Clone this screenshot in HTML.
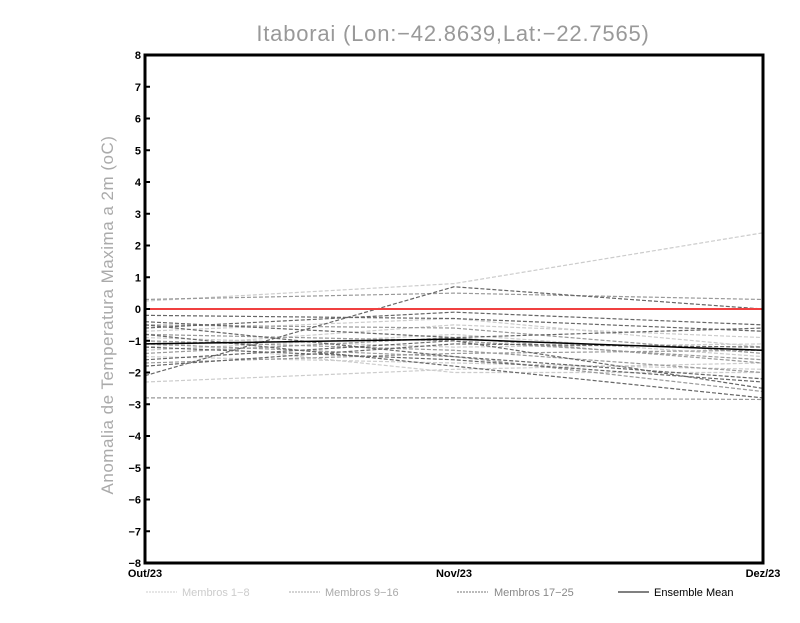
<!DOCTYPE html>
<html><head><meta charset="utf-8"><style>
body{margin:0;background:#fff;width:800px;height:618px;overflow:hidden;font-family:"Liberation Sans",sans-serif}
</style></head><body>
<svg id="chart" width="800" height="618" xmlns="http://www.w3.org/2000/svg">
<text x="453" y="41" text-anchor="middle" font-size="22" fill="#999" font-family="Liberation Sans, sans-serif" letter-spacing="0.8">Itaborai (Lon:−42.8639,Lat:−22.7565)</text>
<text transform="translate(113,315) rotate(-90)" text-anchor="middle" font-size="17" fill="#aaa" letter-spacing="0.5">Anomalia de Temperatura Maxima a 2m (oC)</text>
<g id="series"></g>
<g id="axes"></g>
<g id="legend" font-size="11">
<line x1="146" y1="592" x2="177" y2="592" stroke="#ccc" stroke-dasharray="2,1"/>
<text x="182" y="596" fill="#ccc">Membros 1−8</text>
<line x1="289" y1="592" x2="320" y2="592" stroke="#aaa" stroke-dasharray="2,1"/>
<text x="325" y="596" fill="#aaa">Membros 9−16</text>
<line x1="457" y1="592" x2="488" y2="592" stroke="#777" stroke-dasharray="2,1"/>
<text x="494" y="596" fill="#888">Membros 17−25</text>
<line x1="618" y1="592" x2="649" y2="592" stroke="#000"/>
<text x="654" y="596" fill="#000">Ensemble Mean</text>
</g>
</svg>
<script>
const months=["Out/23","Nov/23","Dez/23"];
const yTicks=[8,7,6,5,4,3,2,1,0,-1,-2,-3,-4,-5,-6,-7,-8];
const membersLight=[[0.25,0.8,2.4],[-2.3,-1.9,-1.7],[-1.2,-0.5,-0.9],[-0.9,-1.2,-1.1],[-1.5,-1.7,-1.9],[-0.7,-0.3,-1.2],[-1.0,-2.0,-2.0],[-1.3,-0.8,-1.5]];
const membersMid=[[0.3,0.5,0.3],[-0.8,-1.0,-1.6],[-1.1,-1.5,-2.6],[-1.7,-1.4,-1.3],[-2.8,-2.8,-2.85],[-0.5,-0.6,-1.4],[-1.4,-0.9,-1.7],[-1.0,-1.3,-2.0]];
const membersDark=[[-2.1,0.7,0.0],[-0.5,-1.5,-2.2],[-0.2,-0.3,-0.7],[-0.6,-0.1,-0.5],[-1.8,-1.1,-1.2],[-0.8,-1.8,-2.8],[-1.2,-1.6,-2.3],[-0.4,-0.9,-0.6],[-1.6,-1.0,-2.5]];
const ensembleMean=[-1.1,-0.95,-1.3];
const zeroLine=[0,0,0];
const L=145,R=763,T=55,B=563,NS="http://www.w3.org/2000/svg";
const xs=i=>L+(R-L)*i/(months.length-1);
const ys=v=>T+(8-v)*(B-T)/16;
const sg=document.getElementById('series'),ag=document.getElementById('axes');
function line(vals,color,dash,w,name){
 const p=document.createElementNS(NS,'polyline');
 p.setAttribute('points',vals.map((v,i)=>xs(i)+','+ys(v)).join(' '));
 p.setAttribute('fill','none');p.setAttribute('stroke',color);p.setAttribute('stroke-width',w);
 if(dash)p.setAttribute('stroke-dasharray',dash);
 
 
 sg.appendChild(p);
}
membersLight.forEach((s,i)=>line(s,'#ccc','4,2',1.2,'member-light-'+(i+1)));
membersMid.forEach((s,i)=>line(s,'#999','4,2',1.2,'member-mid-'+(i+9)));
membersDark.forEach((s,i)=>line(s,'#666','4,2',1.2,'member-dark-'+(i+17)));
line(zeroLine,'#f04040','',2,'zero-line');
line(ensembleMean,'#000','',1.5,'ensemble-mean-line');
const fr=document.createElementNS(NS,'rect');
fr.setAttribute('x',L);fr.setAttribute('y',T);fr.setAttribute('width',R-L);fr.setAttribute('height',B-T);
fr.setAttribute('fill','none');fr.setAttribute('stroke','#000');fr.setAttribute('stroke-width','3');


ag.appendChild(fr);
yTicks.forEach(v=>{
 const t=document.createElementNS(NS,'text');
 t.setAttribute('x',L-4);t.setAttribute('y',ys(v)+4);t.setAttribute('text-anchor','end');
 t.setAttribute('font-size','11');t.setAttribute('font-weight','bold');
 t.textContent=(v<0?'−':'')+Math.abs(v);
 
 
 ag.appendChild(t);
 const k=document.createElementNS(NS,'line');
 k.setAttribute('x1',L);k.setAttribute('x2',L+5);k.setAttribute('y1',ys(v));k.setAttribute('y2',ys(v));
 k.setAttribute('stroke','#000');k.setAttribute('stroke-width','2');
 
 
 ag.appendChild(k);
});
months.forEach((m,i)=>{
 const t=document.createElementNS(NS,'text');
 t.setAttribute('x',xs(i));t.setAttribute('y',B+14);t.setAttribute('text-anchor','middle');
 t.setAttribute('font-size','11');t.setAttribute('font-weight','bold');
 t.textContent=m;
 
 
 ag.appendChild(t);
});
</script>
</body></html>
